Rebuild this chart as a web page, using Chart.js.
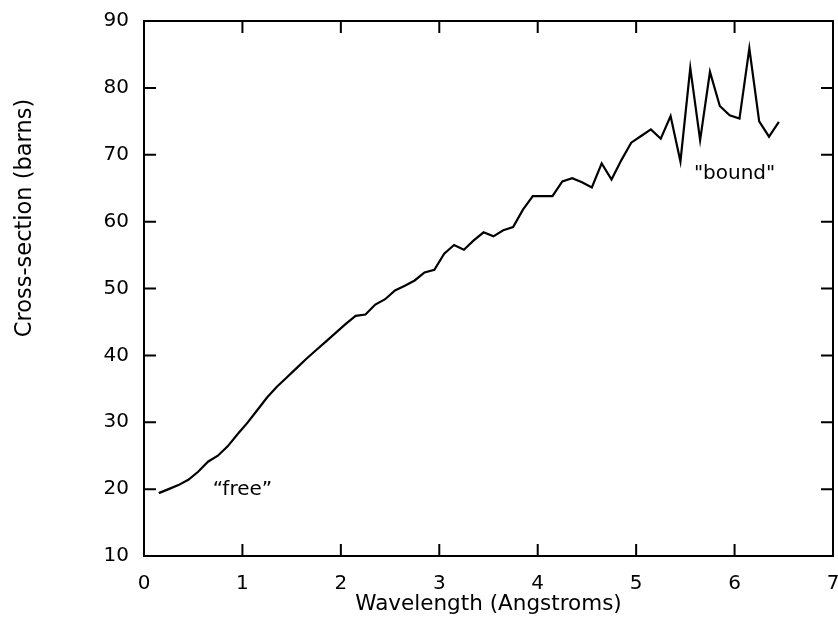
<!DOCTYPE html>
<html>
<head>
<meta charset="utf-8">
<script src="https://cdn.jsdelivr.net/npm/chart.js"></script>
<style>
  html, body { margin: 0; padding: 0; background: #fff; }
</style>
</head>
<body>
<canvas id="chart" width="838" height="621"></canvas>
<script>
// wavelength in Angstroms (about 0.1 A apart)
const wavelength = [
  0.15, 0.25, 0.35, 0.45, 0.55, 0.65, 0.75, 0.85, 0.95, 1.05,
  1.15, 1.25, 1.35, 1.45, 1.55, 1.65, 1.75, 1.85, 1.95, 2.05,
  2.15, 2.25, 2.35, 2.45, 2.55, 2.65, 2.75, 2.85, 2.95, 3.05,
  3.15, 3.25, 3.35, 3.45, 3.55, 3.65, 3.75, 3.85, 3.95, 4.05,
  4.15, 4.25, 4.35, 4.45, 4.55, 4.65, 4.75, 4.85, 4.95, 5.05,
  5.15, 5.25, 5.35, 5.45, 5.55, 5.65, 5.75, 5.85, 5.95, 6.05,
  6.15, 6.25, 6.35, 6.45
];
// cross-section in barns
const crossSection = [
  19.4, 20.0, 20.6, 21.4, 22.6, 24.1, 25.0, 26.4, 28.2, 29.9,
  31.8, 33.7, 35.3, 36.7, 38.1, 39.5, 40.8, 42.1, 43.4, 44.7,
  45.9, 46.1, 47.6, 48.4, 49.7, 50.4, 51.2, 52.4, 52.8, 55.2,
  56.5, 55.8, 57.2, 58.4, 57.8, 58.7, 59.2, 61.8, 63.8, 63.8,
  63.8, 66.0, 66.5, 65.9, 65.1, 68.7, 66.3, 69.2, 71.8, 72.8,
  73.8, 72.4, 75.8, 69.0, 83.0, 72.2, 82.4, 77.3, 75.9, 75.4,
  85.9, 75.0, 72.7, 74.9
];
const xTicks = [0, 1, 2, 3, 4, 5, 6, 7];
const yTicks = [10, 20, 30, 40, 50, 60, 70, 80, 90];
const notes = [
  { text: '\u201cfree\u201d', x: 1.0, y: 19.9 },
  { text: '"bound"', x: 6.0, y: 67.2 }
];

const FONT = "'DejaVu Sans', Verdana, sans-serif";

// inward ticks on all four sides, plus the titles and the two notes
const framePlugin = {
  id: 'frame',
  afterDraw(chart) {
    const ctx = chart.ctx;
    const xs = chart.scales.x, ys = chart.scales.y;
    const a = chart.chartArea;
    const len = 12;
    ctx.save();
    ctx.strokeStyle = '#000';
    ctx.lineWidth = 2;
    ctx.strokeRect(a.left, a.top, a.right - a.left, a.bottom - a.top);
    ctx.beginPath();
    xTicks.forEach(v => {
      const px = xs.getPixelForValue(v);
      ctx.moveTo(px, a.bottom); ctx.lineTo(px, a.bottom - len);
      ctx.moveTo(px, a.top); ctx.lineTo(px, a.top + len);
    });
    yTicks.forEach(v => {
      const py = ys.getPixelForValue(v);
      ctx.moveTo(a.left, py); ctx.lineTo(a.left + len, py);
      ctx.moveTo(a.right, py); ctx.lineTo(a.right - len, py);
    });
    ctx.stroke();

    ctx.fillStyle = '#000';
    ctx.font = '20px ' + FONT;
    ctx.textAlign = 'center';
    ctx.textBaseline = 'middle';
    notes.forEach(n => {
      ctx.fillText(n.text, xs.getPixelForValue(n.x), ys.getPixelForValue(n.y));
    });

    ctx.font = '21.5px ' + FONT;
    ctx.fillText('Wavelength (Angstroms)', (a.left + a.right) / 2, 604);
    ctx.font = '22.5px ' + FONT;
    ctx.translate(25, 218);
    ctx.rotate(-Math.PI / 2);
    ctx.fillText('Cross-section (barns)', 0, 0);
    ctx.restore();
  }
};

new Chart(document.getElementById('chart'), {
  type: 'line',
  data: {
    datasets: [{
      data: wavelength.map((w, i) => ({ x: w, y: crossSection[i] })),
      borderColor: '#000',
      borderWidth: 2.2,
      pointRadius: 0,
      tension: 0,
      fill: false
    }]
  },
  plugins: [framePlugin],
  options: {
    responsive: false,
    animation: false,
    layout: { padding: { top: 21, right: 5, left: 0, bottom: 0 } },
    plugins: { legend: { display: false }, tooltip: { enabled: false } },
    scales: {
      x: {
        type: 'linear',
        min: 0, max: 7,
        afterFit: (s) => { s.height = 65; s.paddingLeft = 0; s.paddingRight = 0; },
        afterBuildTicks: (s) => { s.ticks = xTicks.map(v => ({ value: v })); },
        grid: { display: false, drawTicks: false },
        border: { display: false },
        ticks: { color: '#000', padding: 16, maxRotation: 0, font: { family: FONT, size: 20 } }
      },
      y: {
        type: 'linear',
        min: 10, max: 90,
        afterFit: (s) => { s.width = 144; s.paddingTop = 0; s.paddingBottom = 0; },
        afterBuildTicks: (s) => { s.ticks = yTicks.map(v => ({ value: v })); },
        grid: { display: false, drawTicks: false },
        border: { display: false },
        ticks: { color: '#000', padding: 15, font: { family: FONT, size: 20 } }
      }
    }
  }
});
</script>
</body>
</html>
